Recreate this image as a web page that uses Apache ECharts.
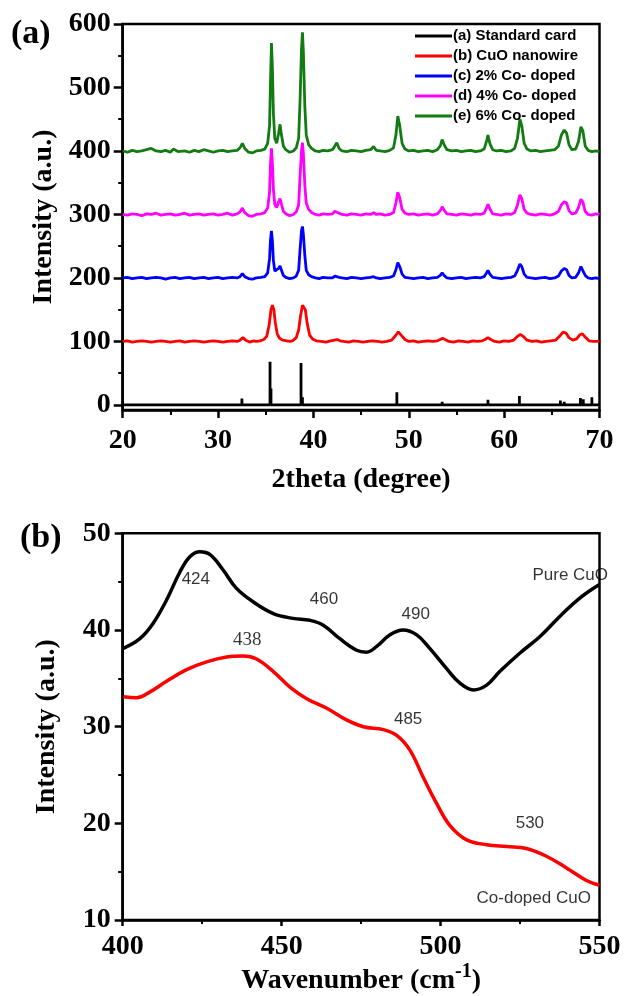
<!DOCTYPE html>
<html><head><meta charset="utf-8">
<script src="https://cdn.jsdelivr.net/npm/echarts@6/dist/echarts.min.js"></script>
<style>html,body{margin:0;padding:0;background:#fff}#c{width:624px;height:996px}</style>
</head><body><div id="c"></div>
<script>
// ---------- (a) XRD data ----------
const xrdNames = ['(a) Standard card', '(b) CuO nanowire', '(c) 2% Co- doped', '(d) 4% Co- doped', '(e) 6% Co- doped'];
const xrdColors = ['#000000', '#ff0000', '#0000ff', '#ff00ff', '#127c12'];
const xTicksA = [20, 30, 40, 50, 60, 70];
const yTicksA = [0, 100, 200, 300, 400, 500, 600];
const yMinorA = [50, 150, 250, 350, 450, 550];

// standard card sticks: [2theta, intensity]
const cardSticks = [[32.5,10],[35.45,68],[35.55,26],[38.7,66],[38.85,12],[46.3,3],[48.75,20],[53.5,5],[58.3,8],[61.6,14],[65.9,7],[66.3,5],[68.0,11],[68.3,9],[69.2,12]];

const cuoNanowire = [[20,100],[20.5,101],[21,99],[21.5,100],[22,101],[22.5,100],[23,99],[23.5,100],[24,101],[24.5,100],[25,99],[25.5,100],[26,101],[26.5,99],[27,100],[27.5,101],[28,100],[28.5,99],[29,100],[29.5,101],[30,100],[30.5,99],[31,100],[31.5,101],[32,100],[32.3,102],[32.6,106],[32.9,102],[33.3,99],[33.7,101],[34,100],[34.4,101],[34.8,103],[35.1,108],[35.35,125],[35.55,150],[35.7,157],[35.85,150],[36.0,130],[36.2,112],[36.45,105],[36.8,102],[37.2,101],[37.6,100],[37.9,102],[38.2,106],[38.45,118],[38.65,140],[38.85,157],[39.0,159],[39.15,150],[39.35,128],[39.6,110],[39.9,104],[40.3,101],[40.8,100],[41.3,99],[41.8,101],[42.2,102],[42.5,103],[42.8,101],[43.2,100],[43.7,99],[44.2,101],[44.7,100],[45.2,99],[45.7,100],[46.2,101],[46.7,100],[47.2,99],[47.7,100],[48.2,102],[48.6,109],[48.9,115],[49.2,110],[49.6,103],[50,100],[50.5,101],[51,99],[51.5,100],[52,101],[52.5,100],[53,101],[53.3,103],[53.55,105],[53.8,103],[54.2,100],[54.7,99],[55.2,101],[55.7,100],[56.2,99],[56.7,101],[57.2,100],[57.7,101],[58,103],[58.3,106],[58.6,103],[59,100],[59.5,99],[60,101],[60.5,100],[61,102],[61.4,108],[61.7,111],[62,108],[62.4,102],[62.9,100],[63.4,101],[63.9,99],[64.4,100],[64.9,101],[65.4,102],[65.8,108],[66.2,115],[66.5,113],[66.8,106],[67.2,102],[67.6,104],[67.9,110],[68.2,112],[68.5,107],[68.9,101],[69.4,100],[70,100]];

const coDoped2 = [[20,200],[20.5,201],[21,199],[21.5,200],[22,201],[22.5,199],[23,200],[23.5,201],[24,200],[24.5,198],[25,200],[25.5,201],[26,199],[26.5,200],[27,201],[27.5,199],[28,200],[28.5,201],[29,199],[29.5,200],[30,201],[30.5,199],[31,200],[31.5,201],[32,200],[32.3,202],[32.55,207],[32.8,202],[33.2,199],[33.6,198],[34,200],[34.5,201],[34.9,202],[35.2,208],[35.4,230],[35.5,260],[35.6,274],[35.7,258],[35.8,228],[35.95,211],[36.15,208],[36.35,215],[36.5,219],[36.65,212],[36.85,204],[37.1,201],[37.5,199],[37.9,200],[38.2,203],[38.45,212],[38.6,245],[38.75,275],[38.85,281],[38.95,268],[39.1,235],[39.25,212],[39.5,205],[39.8,202],[40.2,200],[40.6,199],[41,201],[41.5,200],[42,200],[42.25,203],[42.45,206],[42.7,201],[43,200],[43.5,199],[44,201],[44.5,200],[45,199],[45.5,200],[46,201],[46.3,202],[46.6,200],[47,199],[47.5,200],[48,201],[48.4,203],[48.65,213],[48.85,224],[49.05,218],[49.3,206],[49.6,201],[50,200],[50.5,199],[51,200],[51.5,201],[52,199],[52.5,200],[53,201],[53.3,204],[53.5,208],[53.7,204],[54,200],[54.5,199],[55,200],[55.5,201],[56,199],[56.5,200],[57,201],[57.5,200],[57.9,202],[58.15,208],[58.3,212],[58.5,206],[58.8,201],[59.2,200],[59.7,199],[60.2,200],[60.7,201],[61.1,203],[61.4,212],[61.65,222],[61.85,218],[62.1,206],[62.4,201],[62.8,200],[63.3,199],[63.8,200],[64.3,201],[64.8,199],[65.3,200],[65.7,203],[66,211],[66.3,215],[66.55,213],[66.8,204],[67.1,200],[67.5,201],[67.8,208],[68.05,218],[68.25,215],[68.5,204],[68.8,200],[69.2,199],[69.6,200],[70,199]];

const coDoped4 = [[20,300],[20.5,299],[21,301],[21.5,300],[22,298],[22.5,301],[23,300],[23.5,302],[24,299],[24.5,300],[25,301],[25.5,299],[26,300],[26.5,302],[27,299],[27.5,300],[28,301],[28.5,299],[29,300],[29.5,301],[30,299],[30.5,300],[31,302],[31.5,299],[32,301],[32.3,304],[32.55,310],[32.8,303],[33.2,298],[33.6,297],[34,300],[34.5,301],[34.9,303],[35.2,310],[35.4,335],[35.5,380],[35.6,404],[35.7,380],[35.8,340],[35.95,316],[36.15,311],[36.35,320],[36.5,325],[36.65,316],[36.85,305],[37.1,301],[37.5,298],[37.9,300],[38.2,304],[38.45,315],[38.6,360],[38.75,400],[38.85,413],[38.95,395],[39.1,345],[39.25,318],[39.5,308],[39.8,303],[40.2,300],[40.6,299],[41,301],[41.5,300],[42,301],[42.25,305],[42.45,308],[42.7,302],[43,300],[43.5,299],[44,301],[44.5,300],[45,299],[45.5,301],[46,300],[46.3,303],[46.6,300],[47,301],[47.5,299],[48,300],[48.4,303],[48.65,318],[48.85,335],[49.05,326],[49.3,308],[49.6,302],[50,300],[50.5,301],[51,299],[51.5,300],[52,301],[52.5,299],[53,301],[53.3,306],[53.5,312],[53.7,307],[54,301],[54.5,300],[55,299],[55.5,301],[56,300],[56.5,299],[57,301],[57.5,300],[57.9,302],[58.15,310],[58.3,316],[58.5,309],[58.8,301],[59.2,300],[59.7,299],[60.2,301],[60.7,300],[61.1,303],[61.4,315],[61.65,331],[61.85,325],[62.1,308],[62.4,302],[62.8,300],[63.3,299],[63.8,301],[64.3,300],[64.8,299],[65.3,301],[65.7,305],[66,315],[66.3,320],[66.55,318],[66.8,306],[67.1,301],[67.5,302],[67.8,311],[68.05,324],[68.25,320],[68.5,305],[68.8,300],[69.2,299],[69.6,301],[70,300]];

const coDoped6 = [[20,400],[20.5,398],[21,401],[21.5,399],[22,400],[22.5,402],[23,404],[23.5,400],[24,399],[24.5,401],[25,398],[25.3,403],[25.8,399],[26.5,400],[27,398],[27.5,401],[28,399],[28.5,402],[29,400],[29.5,398],[30,400],[30.5,401],[31,399],[31.5,400],[32,401],[32.3,405],[32.55,412],[32.8,404],[33.2,398],[33.6,397],[34,400],[34.5,401],[34.9,403],[35.2,412],[35.4,440],[35.5,510],[35.6,570],[35.7,530],[35.8,460],[35.95,420],[36.15,412],[36.35,428],[36.5,442],[36.65,425],[36.85,408],[37.1,402],[37.5,398],[37.9,400],[38.2,405],[38.45,420],[38.6,480],[38.75,560],[38.85,587],[38.95,555],[39.1,470],[39.25,425],[39.5,410],[39.8,404],[40.2,400],[40.6,399],[41,401],[41.5,400],[42,402],[42.25,408],[42.45,413],[42.7,404],[43,400],[43.5,399],[44,401],[44.5,400],[45,399],[45.5,401],[46,402],[46.3,407],[46.6,401],[47,400],[47.5,399],[48,401],[48.4,405],[48.65,425],[48.85,455],[49.05,440],[49.3,412],[49.6,403],[50,400],[50.5,401],[51,399],[51.5,400],[52,401],[52.5,399],[53,402],[53.3,408],[53.5,418],[53.7,410],[54,402],[54.5,400],[55,401],[55.5,399],[56,400],[56.5,401],[57,399],[57.5,400],[57.9,403],[58.15,415],[58.3,425],[58.5,412],[58.8,402],[59.2,400],[59.7,401],[60.2,399],[60.7,400],[61.1,404],[61.4,420],[61.65,450],[61.85,440],[62.1,412],[62.4,403],[62.8,400],[63.3,401],[63.8,399],[64.3,400],[64.8,401],[65.3,402],[65.7,408],[66,425],[66.3,433],[66.55,428],[66.8,410],[67.1,402],[67.5,403],[67.8,415],[68.05,438],[68.25,432],[68.5,408],[68.8,401],[69.2,399],[69.6,400],[70,399]];

// ---------- (b) FTIR data ----------
const ftirNames = ['Pure CuO', 'Co-doped CuO'];
const ftirPure = [[400.2,38.1],[405.4,39.1],[409.6,40.7],[413.8,43.1],[418,46.0],[421.2,47.6],[424.3,48.1],[427.5,47.8],[431.6,46.2],[435.8,44.3],[441.1,42.9],[447.4,41.7],[453.6,41.2],[458.9,41.0],[463.1,40.5],[468.3,39.1],[473.6,37.9],[476.7,37.7],[479.9,38.3],[484.1,39.5],[488.2,40.0],[492.5,39.5],[496.6,38.1],[501.9,36.0],[506.1,34.5],[510.3,33.8],[514.5,34.3],[518.6,35.7],[524.9,37.6],[531.2,39.3],[537.5,41.4],[543.8,43.3],[550,44.7]];
const ftirCo = [[400.2,33.1],[404.4,33.0],[408.6,33.6],[413.8,34.7],[420.1,35.9],[426.4,36.7],[432.7,37.2],[437.9,37.3],[442.1,37.0],[447.4,35.7],[452.6,34.1],[457.9,32.9],[464.2,31.9],[470.4,30.7],[475.7,30.0],[482,29.7],[486.2,29.1],[490.3,27.6],[494.5,24.8],[498.7,22.1],[502.9,19.8],[508.2,18.3],[514.5,17.8],[520.8,17.6],[527,17.4],[533.3,16.6],[539.6,15.4],[545.9,14.1],[550,13.6]];
const ftirLabels = [[423,45.2,'424'],[463.3,43.2,'460'],[492.2,41.6,'490'],[489.8,30.8,'485'],[528.1,20.0,'530'],[540.8,45.7,'Pure CuO'],[529.3,12.25,'Co-doped CuO']];
const ftirSerifLabels = [[439.2,39.0,'438']];

// ---------- build ----------
const cardLine = [[20, 0]];
cardSticks.forEach(([t, h]) => { cardLine.push([t, 0], [t, h], [t, 0]); });
cardLine.push([70, 0]);

const serif = 'Liberation Serif';
const sans = 'Liberation Sans';
const axisTxt = {color: '#000', fontFamily: serif, fontWeight: 'bold', fontSize: 28};
const axLine = {onZero: false, lineStyle: {color: '#000', width: 2.5}};

const xrdData = [cardLine, cuoNanowire, coDoped2, coDoped4, coDoped6];
const series = xrdData.map((d, i) => ({
  name: xrdNames[i], type: 'line', xAxisIndex: 0, yAxisIndex: 0, data: d,
  showSymbol: false, symbol: 'none', silent: true,
  lineStyle: {color: xrdColors[i], width: 2.8}, itemStyle: {color: xrdColors[i]}
}));
series.push({name: ftirNames[0], type: 'line', xAxisIndex: 1, yAxisIndex: 2, data: ftirPure, smooth: 0.4,
  showSymbol: false, symbol: 'none', silent: true, lineStyle: {color: '#000', width: 3.5}});
series.push({name: ftirNames[1], type: 'line', xAxisIndex: 1, yAxisIndex: 2, data: ftirCo, smooth: 0.4,
  showSymbol: false, symbol: 'none', silent: true, lineStyle: {color: '#f00', width: 3.5}});
series.push({type: 'scatter', xAxisIndex: 1, yAxisIndex: 2, data: ftirLabels, symbolSize: 1, silent: true,
  itemStyle: {color: 'rgba(0,0,0,0)'},
  label: {show: true, position: 'inside', formatter: p => p.value[2], color: '#000', textBorderWidth: 0, fontFamily: sans, fontSize: 17}});
series.push({type: 'scatter', xAxisIndex: 1, yAxisIndex: 2, data: ftirSerifLabels, symbolSize: 1, silent: true,
  itemStyle: {color: 'rgba(0,0,0,0)'},
  label: {show: true, position: 'inside', formatter: p => p.value[2], color: '#000', textBorderWidth: 0, fontFamily: serif, fontSize: 19}});

const option = {
  animation: false,
  backgroundColor: '#fff',
  title: [
    {text: '(a)', left: 6, top: 12, textStyle: {fontFamily: serif, fontWeight: 'bold', fontSize: 34, color: '#000'}},
    {text: '(b)', left: 15, top: 516, textStyle: {fontFamily: serif, fontWeight: 'bold', fontSize: 34, color: '#000'}}
  ],
  legend: {
    data: xrdNames, orient: 'vertical', left: 410, top: 23, icon: 'rect', itemWidth: 37, itemHeight: 3,
    itemGap: 4, selectedMode: false,
    textStyle: {fontFamily: sans, fontWeight: 'bold', fontSize: 15, color: '#000', padding: [0, 0, 0, -4], lineHeight: 16}
  },
  grid: [
    {left: 122.7, right: 24.5, top: 24, bottom: 586, show: true, borderColor: '#000', borderWidth: 2.5, containLabel: false},
    {left: 122.7, right: 24.5, top: 533.3, bottom: 75.3, show: true, borderColor: '#000', borderWidth: 2.5, containLabel: false}
  ],
  xAxis: [
    {type: 'value', gridIndex: 0, min: 20, max: 70, interval: 10, axisLine: axLine,
     axisTick: {length: 8, lineStyle: {color: '#000', width: 2.5}},
     minorTick: {show: true, splitNumber: 2, length: 5, lineStyle: {color: '#000', width: 2}},
     splitLine: {show: false}, minorSplitLine: {show: false},
     axisLabel: Object.assign({margin: 17}, axisTxt),
     name: '2theta (degree)', nameLocation: 'middle', nameGap: 56, nameTextStyle: axisTxt},
    {type: 'value', gridIndex: 1, min: 400, max: 550, interval: 50, axisLine: axLine,
     axisTick: {length: 6, lineStyle: {color: '#000', width: 2.5}},
     minorTick: {show: true, splitNumber: 2, length: 4, lineStyle: {color: '#000', width: 2}},
     splitLine: {show: false}, minorSplitLine: {show: false},
     axisLabel: Object.assign({margin: 13}, axisTxt),
     name: 'Wavenumber (cm{sup|-1})', nameLocation: 'middle', nameGap: 41,
     nameTextStyle: Object.assign({rich: {sup: {fontFamily: serif, fontWeight: 'bold', fontSize: 20, color: '#000', padding: [0, 0, 18, 0]}}}, axisTxt)}
  ],
  yAxis: [
    {type: 'value', gridIndex: 0, position: 'left', min: -8, max: 600, axisLine: axLine,
     axisTick: {customValues: yTicksA, length: 9, lineStyle: {color: '#000', width: 2.5}},
     axisLabel: Object.assign({customValues: yTicksA, margin: 12}, axisTxt),
     splitLine: {show: false},
     name: 'Intensity (a.u.)', nameLocation: 'middle', nameGap: 62, nameTextStyle: axisTxt},
    {type: 'value', gridIndex: 0, position: 'left', offset: 0, min: -8, max: 600, axisLine: {show: false},
     axisTick: {customValues: yMinorA, length: 4.5, lineStyle: {color: '#000', width: 2}},
     axisLabel: {show: false}, splitLine: {show: false}},
    {type: 'value', gridIndex: 1, position: 'left', min: 10, max: 50, interval: 10, axisLine: axLine,
     axisTick: {length: 8, lineStyle: {color: '#000', width: 2.5}},
     minorTick: {show: true, splitNumber: 2, length: 4.5, lineStyle: {color: '#000', width: 2}},
     splitLine: {show: false}, minorSplitLine: {show: false},
     axisLabel: Object.assign({margin: 12}, axisTxt),
     name: 'Intensity (a.u.)', nameLocation: 'middle', nameGap: 62, nameTextStyle: axisTxt}
  ],
  series: series
};
const chart = echarts.init(document.getElementById('c'), null, {renderer: 'canvas'});
chart.setOption(option);
</script></body></html>
